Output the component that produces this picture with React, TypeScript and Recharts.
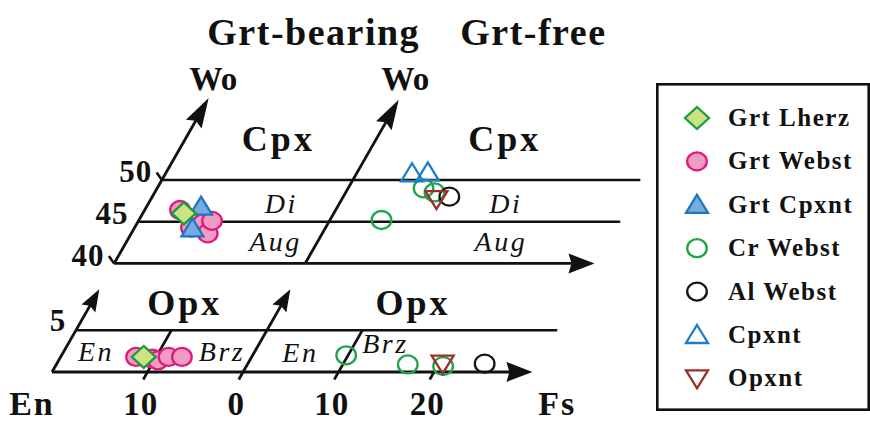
import React from 'react';
import { ScatterChart, Scatter, XAxis, YAxis, ReferenceLine, Legend } from 'recharts';

const SERIF = '"Liberation Serif", "Times New Roman", Times, serif';
const INK = '#111';

// Plot plane: h runs along Fs (one unit = 1 mol% Fs), v along Wo.
const X_MIN = -5.45;
const X_MAX = 85.65;
const Y_MIN = -6.11;
const Y_MAX = 44.55;

const PANEL_SPAN = 20; // Fs width of each panel (Grt-bearing | Grt-free)
const SKEW = 0.5; // horizontal shift of the oblique Wo axes per Wo unit
const CPX_WO_SHIFT = 27; // Cpx band (Wo 40-50) is lifted above the Opx band (Wo 0-5)

type Band = 'cpx' | 'opx';
type Pair = [number, number]; // [Fs, Wo]

// ---- compositions, [Fs, Wo] mol% ----
const GRT_LHERZ_CPX: Pair[] = [[4.3, 46.0]];
const GRT_LHERZ_OPX: Pair[] = [[8.7, 1.8]];
const GRT_WEBST_CPX: Pair[] = [[3.7, 46.4], [5.9, 44.3], [6.9, 44.8], [8.0, 43.6], [7.7, 45.1]];
const GRT_WEBST_OPX: Pair[] = [[7.9, 1.8], [9.7, 1.6], [10.4, 1.4], [11.3, 1.8], [12.7, 1.8]];
const GRT_CPXNT_CPX: Pair[] = [[5.7, 46.8], [6.1, 44.2]];
const CR_WEBST_CPX: Pair[] = [[7.9, 49.0], [9.3, 48.5], [5.4, 45.2]];
const CR_WEBST_OPX: Pair[] = [[9.8, 2.0], [16.8, 0.9], [20.6, 0.7]];
const AL_WEBST_CPX: Pair[] = [[11.1, 48.0]];
const AL_WEBST_OPX: Pair[] = [[24.8, 1.0]];
const CPXNT_CPX: Pair[] = [[5.8, 50.8], [7.4, 50.9]];
const OPXNT_CPX: Pair[] = [[9.9, 47.7]];
const OPXNT_OPX: Pair[] = [[20.4, 1.0]];

// ---- tick labels ----
const CPX_WO_TICKS = [40, 45, 50];
const OPX_WO_TICKS = [5];
const FS_TICKS: { panel: number; fs: number; label: string }[] = [
  { panel: 0, fs: 10, label: '10' },
  { panel: 1, fs: 0, label: '0' },
  { panel: 1, fs: 10, label: '10' },
  { panel: 1, fs: 20, label: '20' },
];
const LEGEND_ORDER = ['Grt Lherz', 'Grt Webst', 'Grt Cpxnt', 'Cr Webst', 'Al Webst', 'Cpxnt', 'Opxnt'];

function project(panel: number, band: Band, fs: number, wo: number) {
  const v = band === 'cpx' ? wo - CPX_WO_SHIFT : wo;
  return { h: panel * PANEL_SPAN + fs + SKEW * v, v };
}

type Series = { name: string; panel: number; cpx: Pair[]; opx: Pair[] };
const SERIES: Series[] = [
  { name: 'Grt Webst', panel: 0, cpx: GRT_WEBST_CPX, opx: GRT_WEBST_OPX },
  { name: 'Grt Cpxnt', panel: 0, cpx: GRT_CPXNT_CPX, opx: [] },
  { name: 'Grt Lherz', panel: 0, cpx: GRT_LHERZ_CPX, opx: GRT_LHERZ_OPX },
  { name: 'Cr Webst', panel: 1, cpx: CR_WEBST_CPX, opx: CR_WEBST_OPX },
  { name: 'Al Webst', panel: 1, cpx: AL_WEBST_CPX, opx: AL_WEBST_OPX },
  { name: 'Cpxnt', panel: 1, cpx: CPXNT_CPX, opx: [] },
  { name: 'Opxnt', panel: 1, cpx: OPXNT_CPX, opx: OPXNT_OPX },
];

const seriesPoints = (s: Series) => [
  ...s.cpx.map(([fs, wo]) => ({ ...project(s.panel, 'cpx', fs, wo), fs, wo })),
  ...s.opx.map(([fs, wo]) => ({ ...project(s.panel, 'opx', fs, wo), fs, wo })),
];

type MarkerDef = { shape: 'circle' | 'diamond' | 'up' | 'down'; fill: string; stroke: string };
const MARKERS: Record<string, MarkerDef> = {
  'Grt Lherz': { shape: 'diamond', fill: '#cbe385', stroke: '#1f9a40' },
  'Grt Webst': { shape: 'circle', fill: '#f39cc3', stroke: '#e0197f' },
  'Grt Cpxnt': { shape: 'up', fill: '#78acdf', stroke: '#1d78c4' },
  'Cr Webst': { shape: 'circle', fill: 'none', stroke: '#20a349' },
  'Al Webst': { shape: 'circle', fill: 'none', stroke: '#141414' },
  Cpxnt: { shape: 'up', fill: 'none', stroke: '#1f7cc8' },
  Opxnt: { shape: 'down', fill: 'none', stroke: '#9c2f2b' },
};

function Glyph({ name, cx, cy }: { name: string; cx: number; cy: number }) {
  const m = MARKERS[name];
  const common = { fill: m.fill, stroke: m.stroke, strokeWidth: 2.3 };
  if (m.shape === 'circle') return <ellipse cx={cx} cy={cy} rx={9.8} ry={9} {...common} />;
  if (m.shape === 'diamond')
    return <polygon points={`${cx},${cy - 11} ${cx + 12},${cy} ${cx},${cy + 11} ${cx - 12},${cy}`} {...common} />;
  if (m.shape === 'up')
    return <polygon points={`${cx},${cy - 10} ${cx + 11},${cy + 8} ${cx - 11},${cy + 8}`} {...common} />;
  return <polygon points={`${cx},${cy + 10} ${cx + 11},${cy - 8} ${cx - 11},${cy - 8}`} {...common} />;
}

// ---- frame of the two skewed Wo–En–Fs panels ----
type End = [number, Band, number, number]; // panel, band, Fs, Wo
type Head = 'fs' | 'wo' | 'woSmall';
const FRAME: { a: End; b: End; head?: Head }[] = [
  { a: [0, 'cpx', 0, 40], b: [1, 'cpx', 30.3, 40], head: 'fs' },
  { a: [0, 'cpx', 0, 45], b: [1, 'cpx', 30.5, 45] },
  { a: [0, 'cpx', 0, 50], b: [1, 'cpx', 30.1, 50] },
  { a: [0, 'cpx', 0, 40], b: [0, 'cpx', 0, 59.8], head: 'wo' },
  { a: [1, 'cpx', 0, 40], b: [1, 'cpx', 0, 59.6], head: 'wo' },
  { a: [0, 'cpx', 0, 40], b: [0, 'cpx', -1, 40.9] },
  { a: [0, 'cpx', 0, 50], b: [0, 'cpx', -1, 50.9] },
  { a: [0, 'opx', 0, 0], b: [1, 'opx', 30.3, 0], head: 'fs' },
  { a: [0, 'opx', 0, 5], b: [1, 'opx', 30.4, 5] },
  { a: [0, 'opx', 0, 0], b: [0, 'opx', 0, 9.9], head: 'woSmall' },
  { a: [1, 'opx', 0, -0.9], b: [1, 'opx', 0, 9.9], head: 'woSmall' },
  { a: [0, 'opx', 10, -0.9], b: [0, 'opx', 10, 5] },
  { a: [1, 'opx', 10, -0.9], b: [1, 'opx', 10, 5] },
  { a: [1, 'opx', 20, -0.9], b: [1, 'opx', 20, 0] },
];

const HEADS: Record<Head, { len: number; half: number; notch: number }> = {
  fs: { len: 26, half: 10, notch: 3 },
  wo: { len: 30, half: 9, notch: 4 },
  woSmall: { len: 22, half: 8, notch: 3 },
};

const endPoint = ([panel, band, fs, wo]: End) => {
  const p = project(panel, band, fs, wo);
  return { x: p.h, y: p.v };
};

function makeShape(head?: Head) {
  return (props: any) => {
    const { x1, y1, x2, y2 } = props;
    if (!head) return <line x1={x1} y1={y1} x2={x2} y2={y2} stroke={INK} strokeWidth={2.6} />;
    const { len, half, notch } = HEADS[head];
    const dx = x2 - x1;
    const dy = y2 - y1;
    const L = Math.hypot(dx, dy);
    const ux = dx / L;
    const uy = dy / L;
    const bx = x2 - ux * len;
    const by = y2 - uy * len;
    const nx = -uy;
    const ny = ux;
    const mx = bx + ux * notch;
    const my = by + uy * notch;
    return (
      <g>
        <line x1={x1} y1={y1} x2={mx + ux * 2} y2={my + uy * 2} stroke={INK} strokeWidth={2.8} />
        <polygon
          points={`${x2},${y2} ${bx + nx * half},${by + ny * half} ${mx},${my} ${bx - nx * half},${by - ny * half}`}
          fill={INK}
        />
      </g>
    );
  };
}

// ---- text placed on the plot plane ----
type TextItem = {
  text: string;
  h: number;
  v: number;
  size: number;
  spacing?: number;
  italic?: boolean;
  anchor?: 'start' | 'middle' | 'end';
};

const FIELD_LABELS: TextItem[] = [
  { text: 'Grt-bearing', h: 27.4, v: 39.2, size: 38, spacing: 1.5 },
  { text: 'Grt-free', h: 50.4, v: 39.2, size: 38, spacing: 1.5 },
  { text: 'Wo', h: 16.9, v: 33.8, size: 33 },
  { text: 'Wo', h: 37.0, v: 33.8, size: 33 },
  { text: 'Cpx', h: 23.7, v: 26.5, size: 36, spacing: 3 },
  { text: 'Cpx', h: 47.4, v: 26.5, size: 36, spacing: 3 },
  { text: 'Di', h: 24.0, v: 19.0, size: 28, spacing: 2.5, italic: true },
  { text: 'Di', h: 47.5, v: 19.0, size: 28, spacing: 2.5, italic: true },
  { text: 'Aug', h: 23.4, v: 14.5, size: 28, spacing: 2.5, italic: true },
  { text: 'Aug', h: 47.0, v: 14.5, size: 28, spacing: 2.5, italic: true },
  { text: 'Opx', h: 13.9, v: 6.8, size: 36, spacing: 3 },
  { text: 'Opx', h: 37.8, v: 6.8, size: 36, spacing: 3 },
  { text: 'En', h: 4.6, v: 1.3, size: 28, spacing: 2.5, italic: true },
  { text: 'Brz', h: 17.8, v: 1.3, size: 28, spacing: 2.5, italic: true },
  { text: 'En', h: 26.0, v: 1.2, size: 28, spacing: 2.5, italic: true },
  { text: 'Brz', h: 34.9, v: 2.3, size: 28, spacing: 2.5, italic: true },
];

const FS_LABEL_V = -5.15;
const TICK_TEXT: TextItem[] = [
  ...CPX_WO_TICKS.map((wo) => {
    const p = project(0, 'cpx', 0, wo);
    return { text: String(wo), h: p.h - 1.0, v: p.v - 0.3, size: 31, spacing: 1, anchor: 'end' as const };
  }),
  ...OPX_WO_TICKS.map((wo) => {
    const p = project(0, 'opx', 0, wo);
    return { text: String(wo), h: p.h - 1.0, v: p.v - 0.1, size: 31, spacing: 1, anchor: 'end' as const };
  }),
  ...FS_TICKS.map((t) => ({
    text: t.label,
    h: project(t.panel, 'opx', t.fs, 0).h - 0.7,
    v: FS_LABEL_V,
    size: 33,
    spacing: 1,
  })),
  { text: 'En', h: -2.1, v: FS_LABEL_V, size: 34, spacing: 2 },
  { text: 'Fs', h: 52.9, v: FS_LABEL_V, size: 34, spacing: 2 },
];

const ALL_TEXT = [...FIELD_LABELS, ...TICK_TEXT];

function TextMark(props: any) {
  const { cx, cy, payload } = props;
  const t = payload as TextItem;
  return (
    <text
      x={cx}
      y={cy}
      textAnchor={t.anchor ?? 'middle'}
      fontFamily={SERIF}
      fontSize={t.size}
      fontWeight={t.italic ? 'normal' : 'bold'}
      fontStyle={t.italic ? 'italic' : 'normal'}
      letterSpacing={t.spacing ?? 0}
      fill={INK}
    >
      {t.text}
    </text>
  );
}

function LegendBox({ payload }: { payload?: any[] }) {
  const present = new Set((payload ?? []).map((p) => p.value));
  const names = LEGEND_ORDER.filter((n) => present.has(n));
  return (
    <svg width={214} height={328} style={{ display: 'block' }}>
      <rect x={1.3} y={1.3} width={211.4} height={325.4} fill="#fff" stroke={INK} strokeWidth={2.6} />
      {names.map((n, i) => {
        const cy = 35 + i * 43.4;
        return (
          <g key={n}>
            <Glyph name={n} cx={41} cy={cy} />
            <text x={72} y={cy + 8} fontFamily={SERIF} fontSize={25} fontWeight="bold" letterSpacing={1.5} fill={INK}>
              {n}
            </text>
          </g>
        );
      })}
    </svg>
  );
}

export default function App() {
  return (
    <div style={{ position: 'fixed', left: 0, top: 0, width: 870, height: 423, background: '#fff' }}>
      <ScatterChart width={870} height={423} margin={{ top: 0, right: 0, bottom: 0, left: 0 }}>
        <XAxis type="number" dataKey="h" domain={[X_MIN, X_MAX]} allowDataOverflow hide />
        <YAxis type="number" dataKey="v" domain={[Y_MIN, Y_MAX]} allowDataOverflow hide />
        {FRAME.map((f, i) => (
          <ReferenceLine
            key={i}
            segment={[endPoint(f.a), endPoint(f.b)]}
            ifOverflow="visible"
            stroke={INK}
            shape={makeShape(f.head)}
          />
        ))}
        <Scatter
          name="labels"
          data={ALL_TEXT}
          legendType="none"
          isAnimationActive={false}
          shape={TextMark}
        />
        {SERIES.map((s) => (
          <Scatter
            key={s.name}
            name={s.name}
            data={seriesPoints(s)}
            fill={MARKERS[s.name].fill}
            stroke={MARKERS[s.name].stroke}
            isAnimationActive={false}
            shape={(p: any) => <Glyph name={s.name} cx={p.cx} cy={p.cy} />}
          />
        ))}
        <Legend
          layout="vertical"
          align="center"
          verticalAlign="middle"
          wrapperStyle={{ left: 656, top: 83, width: 214, height: 328 }}
          content={(props: any) => <LegendBox payload={props.payload} />}
        />
      </ScatterChart>
    </div>
  );
}
